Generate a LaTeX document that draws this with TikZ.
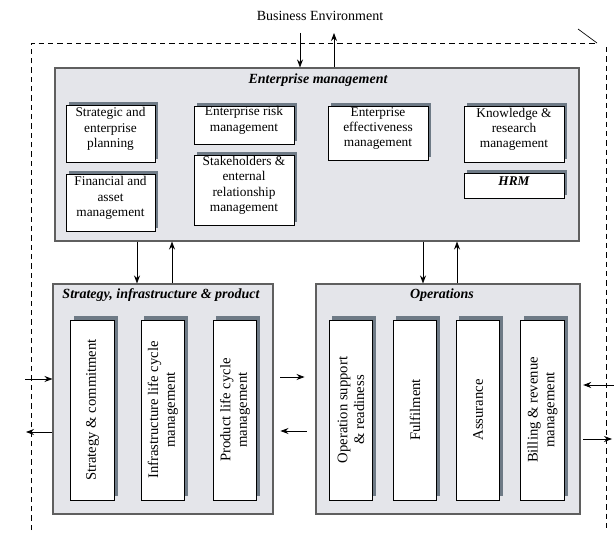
\documentclass[tikz,border=0pt]{standalone}
\usepackage{fontspec}
\setmainfont{Liberation Serif}
\usetikzlibrary{arrows.meta,fit}

\definecolor{panelgray}{HTML}{E4E5EA}
\definecolor{panelline}{HTML}{5F5F5F}
\definecolor{shadowgray}{HTML}{6E7A86}

\pgfdeclarelayer{back}
\pgfdeclarelayer{shade}
\pgfsetlayers{back,shade,main}

\tikzset{
  panel/.style={draw=panelline, fill=panelgray, line width=0.8pt, inner sep=0pt},
  item/.style={draw, fill=white, line width=0.6pt, inner sep=0pt, align=center,
    font=\fontsize{10}{11.5}\selectfont},
  vitem/.style={item, rotate=90, minimum width=135pt, minimum height=32.5pt,
    font=\fontsize{11}{12.5}\selectfont},
  title/.style={font=\bfseries\itshape\fontsize{10.5}{12}\selectfont},
  arr/.style={-{Stealth[length=6pt,width=4.5pt]}, line width=0.6pt},
  frame/.style={dash pattern=on 4pt off 3pt, line width=0.5pt},
}

\begin{document}
\begin{tikzpicture}[x=0.75pt,y=-0.75pt]
\useasboundingbox (0,0) rectangle (614,534);

% outer business environment frame
\draw[frame] (31,530) -- (31,43) -- (597,43);
\draw[line width=0.5pt] (578,29) -- (597,43);
\draw[frame] (606,47) -- (606,530);
\node[font=\fontsize{10.5}{12}\selectfont] (env) at (320,16) {Business Environment};

% panels
\begin{pgfonlayer}{back}
\node[panel, fit={(55,68) (579,241)}] (ent) {};
\node[panel, fit={(53,284) (273,514)}] (sip) {};
\node[panel, fit={(316,284) (580,514)}] (ops) {};
\end{pgfonlayer}

% enterprise management
\node[title] (enttitle) at (318,80) {Enterprise management};
\node[item, fit={(66,105) (155,162)}] (sep) {Strategic and\\enterprise\\planning};
\node[item, fit={(66,174) (155,231)}] (fam) {Financial and\\asset\\management};
\node[item, fit={(194,106) (294,144)}] (erm) {Enterprise risk\\management};
\node[item, fit={(194,155) (294,225)}] (srm) {Stakeholders \&\\enternal\\relationship\\management};
\node[item, fit={(328,106) (428,160)}] (eem) {Enterprise\\effectiveness\\management};
\node[item, fit={(464,106) (564,162)}] (krm) {Knowledge \&\\research\\management};
\node[item, fit={(464,173) (564,198)}, font=\bfseries\itshape\fontsize{10}{12}\selectfont] (hrm) {HRM};

% strategy, infrastructure & product
\node[title] (siptitle) at (161,295) {Strategy, infrastructure \& product};
\node[vitem] (sc) at (92.5,410) {Strategy \& commitment};
\node[vitem] (ilm) at (163,410) {Infrastructure life cycle\\management};
\node[vitem] (plm) at (235,410) {Product life cycle\\management};

% operations
\node[title] (opstitle) at (442,295) {Operations};
\node[vitem] (osr) at (351,410) {Operation support\\\& readiness};
\node[vitem] (ful) at (415,410) {Fulfilment};
\node[vitem] (asr) at (478,410) {Assurance};
\node[vitem] (brm) at (542.5,410) {Billing \& revenue\\management};

% shadows
\begin{pgfonlayer}{shade}
\foreach \n in {sep,fam,erm,srm,eem,krm,hrm}
  \fill[shadowgray] ([xshift=2.2pt,yshift=2.2pt]\n.south west) rectangle ([xshift=2.2pt,yshift=2.2pt]\n.north east);
\foreach \n in {sc,ilm,plm,osr,ful,asr,brm}
  \fill[shadowgray] ([xshift=2.4pt,yshift=3pt]\n.south west) rectangle ([xshift=2.4pt,yshift=3pt]\n.north east);
\end{pgfonlayer}

% arrows to and from the environment
\coordinate (bedown) at (300,33);
\coordinate (beup) at (334,33);
\draw[arr] (bedown) -- (bedown |- ent.north);
\draw[arr] (beup |- ent.north) -- (beup);

% arrows between the panels
\coordinate (sdown) at (137,0);
\coordinate (sup) at (172,0);
\coordinate (odown) at (423,0);
\coordinate (oup) at (457,0);
\draw[arr] (sdown |- ent.south) -- (sdown |- sip.north);
\draw[arr] (sup |- sip.north) -- (sup |- ent.south);
\draw[arr] (odown |- ent.south) -- (odown |- ops.north);
\draw[arr] (oup |- ops.north) -- (oup |- ent.south);

\coordinate (midr) at (0,377);
\coordinate (midl) at (0,431);
\draw[arr, shorten <=5.2pt, shorten >=8.2pt] (sip.east |- midr) -- (ops.west |- midr);
\draw[arr, shorten <=6.7pt, shorten >=5.2pt] (ops.west |- midl) -- (sip.east |- midl);

% side arrows
\coordinate (lin) at (25,379);
\coordinate (lout) at (26,432);
\draw[arr] (lin) -- (lin -| sip.west);
\draw[arr] (lout -| sip.west) -- (lout);
\coordinate (rin) at (614,385);
\coordinate (rout) at (612,439);
\draw[arr, shorten >=2pt] (rin) -- (rin -| ops.east);
\draw[arr, shorten <=2pt] (rout -| ops.east) -- (rout);
\end{tikzpicture}
\end{document}
